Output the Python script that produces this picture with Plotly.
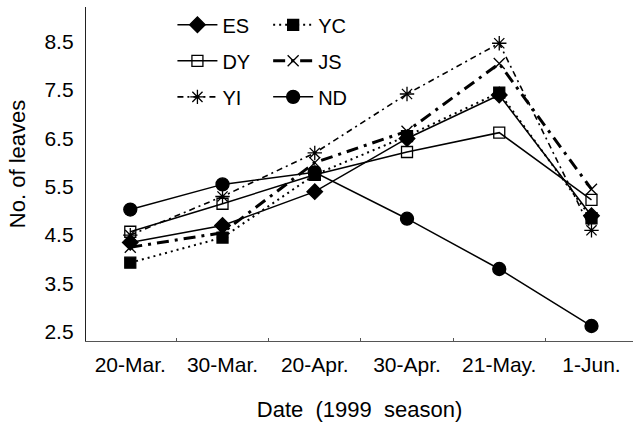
import plotly.graph_objects as go

dates = ["20-Mar.", "30-Mar.", "20-Apr.", "30-Apr.", "21-May.", "1-Jun."]
ES = [4.35, 4.70, 5.40, 6.50, 7.40, 4.90]
YC = [3.93, 4.45, 5.75, 6.55, 7.45, 4.85]
DY = [4.57, 5.15, 5.75, 6.22, 6.62, 5.23]
JS = [4.25, 4.55, 6.00, 6.65, 8.05, 5.45]
YI = [4.50, 5.30, 6.20, 7.42, 8.47, 4.60]
ND = [5.03, 5.55, 5.80, 4.84, 3.80, 2.62]
y_ticks = [2.5, 3.5, 4.5, 5.5, 6.5, 7.5, 8.5]

FONT = "Liberation Sans, Arial, sans-serif"
K = "black"

fig = go.Figure()

def add(name, y, dash, width, symbol, size, legend, group):
    fig.add_trace(go.Scatter(
        x=dates, y=y, name=name, mode="lines+markers",
        line=dict(color=K, width=width, dash=dash),
        marker=dict(symbol=symbol, size=size, color=K,
                    line=dict(color=K, width=1.3)),
        legend=legend, legendgroup=group,
    ))

add("ES", ES, "solid", 1.5, "diamond", 12, "legend", "g1")
add("DY", DY, "solid", 1.5, "square-open", 11, "legend", "g2")
add("YI", YI, "6px,4px,2px,4px", 1.6, "asterisk-open", 12, "legend", "g3")
add("YC", YC, "2px,4px", 2.0, "square", 11, "legend2", "g4")
add("JS", JS, "12px,6px,3px,6px", 3.0, "x-thin-open", 11, "legend2", "g5")
add("ND", ND, "solid", 1.5, "circle", 13, "legend2", "g6")

leg = dict(font=dict(family=FONT, size=20, color=K), bgcolor="rgba(0,0,0,0)",
           orientation="v", yanchor="top", xanchor="left", tracegroupgap=7,
           itemwidth=40)

fig.update_layout(
    width=633, height=423,
    margin=dict(l=86, r=0, t=7, b=82, autoexpand=False),
    paper_bgcolor="white", plot_bgcolor="white",
    font=dict(family=FONT, size=21, color=K),
    showlegend=True,
    legend=dict(leg, x=0.158, y=1.005),
    legend2=dict(leg, x=0.333, y=1.005),
    xaxis=dict(
        type="category", range=[-0.48, 5.45], automargin=False,
        showline=True, linecolor="#555", linewidth=1.2,
        ticks="inside", ticklen=3, tickcolor="#555", tickson="boundaries",
        showgrid=False, zeroline=False,
        tickfont=dict(family=FONT, size=21, color=K),
        ticklabelstandoff=5,
        title=dict(text="Date\u00a0 (1999\u00a0 season)",
                   font=dict(family=FONT, size=22, color=K), standoff=26),
    ),
    yaxis=dict(
        range=[2.31, 9.22], tickvals=y_ticks, automargin=False,
        ticktext=[f"{v:.1f}" for v in y_ticks],
        showline=True, linecolor="#222", linewidth=1.3,
        ticks="", showgrid=False, zeroline=False,
        tickfont=dict(family=FONT, size=21, color=K),
        ticklabelstandoff=7,
    ),
    annotations=[dict(
        text="No. of leaves", textangle=-90, xref="paper", yref="paper",
        x=-0.124, y=0.53, xanchor="center", yanchor="middle", showarrow=False,
        font=dict(family=FONT, size=22, color=K),
    )],
)

fig.write_html("out.html", config={"displayModeBar": False},
               post_script="document.body.style.margin='0';")
